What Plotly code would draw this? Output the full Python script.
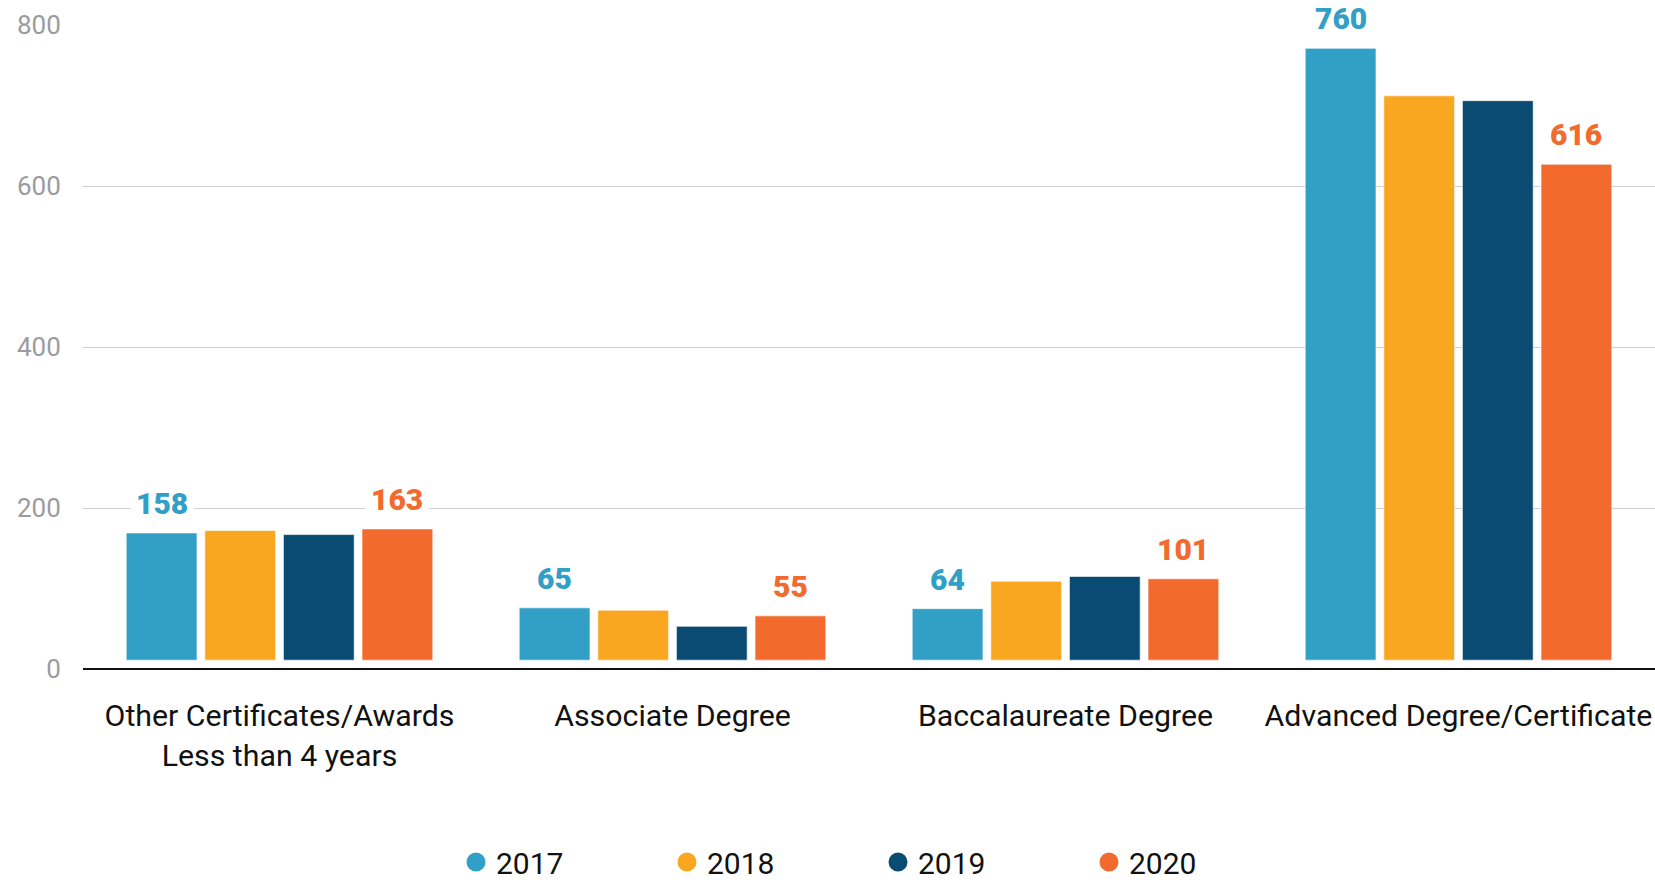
import plotly.graph_objects as go

# ---- data ----
categories = ["Other Certificates/Awards<br>Less than 4 years", "Associate Degree",
              "Baccalaureate Degree", "Advanced Degree/Certificate"]
years = ["2017", "2018", "2019", "2020"]
v2017 = [158, 65, 64, 760]
v2018 = [161, 62, 98, 701]
v2019 = [156, 42, 104, 695]
v2020 = [163, 55, 101, 616]
labelled_years = ["2017", "2020"]
y_ticks = [0, 200, 400, 600, 800]

series = {"2017": v2017, "2018": v2018, "2019": v2019, "2020": v2020}
colors = {"2017": "#329FC7", "2018": "#F9A621", "2019": "#0A4B74", "2020": "#F26A2E"}

BAR_BASE = 11          # bars in the original float slightly above the zero line
BARGAP = 0.2
BARGROUPGAP = 0.1
FONT = "Roboto"

fig = go.Figure()
for yr in years:
    fig.add_trace(go.Bar(
        name=yr, x=categories, y=series[yr], base=BAR_BASE,
        marker=dict(color=colors[yr], line=dict(color="rgba(255,255,255,0.6)", width=1)),
        showlegend=False, hoverinfo="skip"))
# legend entries as round markers
for yr in years:
    fig.add_trace(go.Scatter(
        name=yr, x=[None], y=[None], mode="markers",
        marker=dict(color=colors[yr], size=16, line=dict(color=colors[yr], width=3)),
        showlegend=True))

# value labels (first and last year of each group)
n = len(years)
group_w = 1 - BARGAP
slot = group_w / n
annotations = []
for yr in labelled_years:
    k = years.index(yr)
    off = -group_w / 2 + slot * (k + 0.5)
    for i, v in enumerate(series[yr]):
        annotations.append(dict(
            x=i + off, y=v + BAR_BASE, xref="x", yref="y",
            text=str(v), showarrow=False, yanchor="bottom", yshift=6,
            font=dict(family=FONT, size=30, color=colors[yr], weight=900),
            bgcolor="white", borderpad=5))

fig.update_layout(
    width=1655, height=888,
    margin=dict(l=83, r=0, t=25, b=219),
    paper_bgcolor="white", plot_bgcolor="white",
    barmode="group", bargap=BARGAP, bargroupgap=BARGROUPGAP,
    annotations=annotations,
    legend=dict(orientation="h", xref="container", yref="container",
                x=456 / 1655, xanchor="left", y=-4 / 888, yanchor="bottom",
                font=dict(family=FONT, size=30, color="#111111"),
                entrywidth=166, entrywidthmode="pixels", itemclick=False),
    xaxis=dict(type="category", showgrid=False, showline=False, zeroline=False,
               automargin=False,
               ticks="outside", ticklen=20, tickcolor="rgba(0,0,0,0)",
               tickfont=dict(family=FONT, size=30.3, color="#111111")),
    yaxis=dict(range=[0, 800], tickvals=y_ticks, showgrid=True, gridcolor="#d0d0d0",
               gridwidth=1, zeroline=True, zerolinecolor="#111111", zerolinewidth=2,
               showline=False, automargin=False,
               ticks="outside", ticklen=16, tickcolor="rgba(0,0,0,0)",
               tickfont=dict(family=FONT, size=26, color="#9b9b9f")),
)

fig.write_html("out.html", config={"displayModeBar": False},
               post_script="document.body.style.margin='0';")
